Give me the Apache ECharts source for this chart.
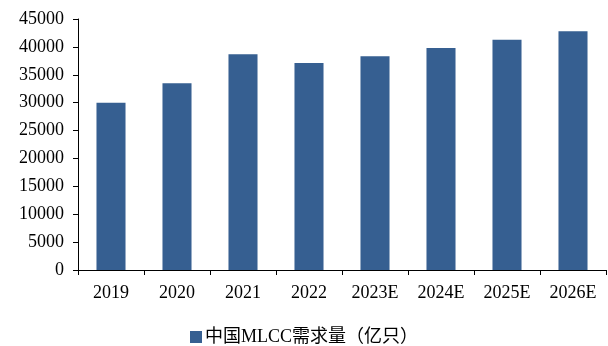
<!DOCTYPE html>
<html>
<head>
<meta charset="utf-8">
<script src="https://cdn.jsdelivr.net/npm/echarts@6/dist/echarts.min.js"></script>
<style>
  html, body { margin: 0; padding: 0; background: #ffffff; }
  #chart { width: 608px; height: 346px; }
</style>
</head>
<body>
<div id="chart"></div>
<script>
// China MLCC demand, 100 million units
const years = ['2019', '2020', '2021', '2022', '2023E', '2024E', '2025E', '2026E'];
const demand = [30000, 33500, 38700, 37100, 38300, 39800, 41300, 42800];
const seriesName = '中国MLCC需求量（亿只）';

const serif = '"Liberation Serif", "Times New Roman", "Noto Sans CJK SC", serif';
const chart = echarts.init(document.getElementById('chart'), null, { renderer: 'canvas' });

chart.setOption({
  animation: false,
  backgroundColor: '#ffffff',
  grid: { left: 78, right: 2, top: 19, bottom: 76, containLabel: false },
  legend: {
    top: 326,
    left: 'center',
    padding: 0,
    itemWidth: 12,
    itemHeight: 12,
    icon: 'rect',
    textStyle: { fontFamily: serif, fontSize: 18, lineHeight: 22, color: '#000000', padding: [0, 0, 0, -2] },
    data: [seriesName]
  },
  xAxis: {
    type: 'category',
    data: years,
    boundaryGap: true,
    axisLine: { lineStyle: { color: '#000000', width: 1 } },
    axisTick: { show: true, alignWithLabel: false, length: 5, lineStyle: { color: '#000000' } },
    axisLabel: { fontFamily: serif, fontSize: 18, color: '#000000', margin: 14 }
  },
  yAxis: {
    type: 'value',
    min: 0,
    max: 45000,
    interval: 5000,
    splitLine: { show: false },
    axisLine: { show: true, lineStyle: { color: '#000000', width: 1 } },
    axisTick: { show: true, length: 5, lineStyle: { color: '#000000' } },
    axisLabel: {
      fontFamily: serif, fontSize: 18, color: '#000000', margin: 14,
      formatter: function (v) { return String(v); }
    }
  },
  series: [{
    name: seriesName,
    type: 'bar',
    data: demand,
    barWidth: '44%',
    itemStyle: { color: '#365F91' }
  }]
});
</script>
</body>
</html>
